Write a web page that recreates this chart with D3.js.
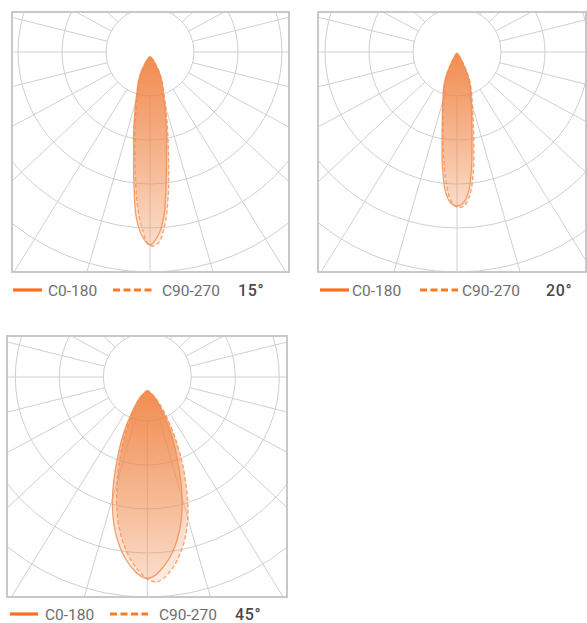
<!DOCTYPE html>
<html>
<head>
<meta charset="utf-8">
<script src="https://cdn.jsdelivr.net/npm/d3@7"></script>
<style>
  html, body { margin: 0; padding: 0; background: #fff; }
  svg { display: block; }
  text { font-family: Roboto, "Noto Sans", sans-serif; }
</style>
</head>
<body>
<svg id="chart" width="587" height="623"></svg>
<script>
// angulos gamma (0 = hacia abajo), intensidad relativa (%; anillo exterior = 100)
const gammas = [-90,-80,-70,-60,-50,-45,-40,-35,-30,-25,-20,-17.5,-15,-12.5,-10,-7.5,-5,-2.5,
  0,2.5,5,7.5,10,12.5,15,17.5,20,25,30,35,40,45,50,60,70,80,90];

const beam15C0 = [0,0,0.1,0.4,0.9,1.6,2.7,4.5,8.4,12.6,17.5,21.6,26.8,34.4,43.0,56.4,72.7,81.6,
  85.6,81.6,72.7,56.4,43.0,34.4,26.8,21.6,17.5,12.6,8.4,4.5,2.7,1.6,0.9,0.4,0.1,0,0];
const beam15C90 = [0,0,0.1,0.3,0.8,1.4,2.4,4.0,7.6,11.6,16.4,20.0,24.8,31.6,40.0,51.6,66.9,78.8,
  85.9,84.9,77.0,63.6,48.9,37.8,29.8,23.6,19.0,13.6,9.4,5.2,3.0,1.8,1.0,0.4,0.1,0,0];

const beam20C0 = [0,0,0.1,0.2,0.5,0.9,1.6,2.7,5.5,12.5,18.2,21.1,25.5,30.9,39.1,51.0,62.3,68.0,
  69.4,68.0,62.3,51.0,39.1,30.9,25.5,21.1,18.2,12.5,5.5,2.7,1.6,0.9,0.5,0.2,0.1,0,0];
const beam20C90 = [0,0,0.1,0.2,0.5,0.8,1.4,2.4,5.0,11.2,17.3,20.0,24.0,29.1,36.2,46.7,58.2,66.7,
  69.9,69.6,65.2,56.1,44.2,34.5,27.9,23.0,19.5,13.7,7.0,3.3,1.8,1.0,0.6,0.2,0.1,0,0];

const beam45C0 = [0,0,0,0.9,3.2,5.5,8.2,12.5,20.5,30.9,45.0,52.7,60.0,66.4,72.0,76.8,80.7,83.9,
  85.3,83.9,80.7,76.8,72.0,66.4,60.0,52.7,45.0,30.9,20.5,12.5,8.2,5.5,3.2,0.9,0,0,0];
const beam45C90 = [0,0,0,0.7,2.5,4.4,6.9,10.5,16.8,26.2,38.8,45.9,53.8,61.2,67.7,73.4,78.3,82.3,
  85.6,87.0,85.6,82.3,78.3,73.4,67.7,61.2,53.8,38.8,26.2,16.8,10.5,6.9,4.4,1.6,0.2,0,0];

const rings = [20, 40, 60, 80, 100];
const legendNames = ["C0-180", "C90-270"];
const beamLabels = ["15°", "20°", "45°"];

const panels = [
  { label: beamLabels[0], c0: beam15C0, c90: beam15C90, x0: 12, y0: 12, x1: 289, y1: 272,
    cx: 150, cy: 52, tip: 4.7, ly: 290, lx: [13, 42, 48, 113, 152, 162, 238] },
  { label: beamLabels[1], c0: beam20C0, c90: beam20C90, x0: 318, y0: 12, x1: 586, y1: 272,
    cx: 457, cy: 52, tip: 1.3, ly: 290, lx: [320, 349, 352, 420, 458, 462, 546] },
  { label: beamLabels[2], c0: beam45C0, c90: beam45C90, x0: 7, y0: 336, x1: 287, y1: 597,
    cx: 147.3, cy: 377, tip: 13.7, ly: 614, lx: [10, 38, 45, 110, 148, 159, 235] }
];

const svg = d3.select("#chart");
const defs = svg.append("defs");

const grad = defs.append("linearGradient")
  .attr("id", "beamFill")
  .attr("x1", 0).attr("y1", 0).attr("x2", 0).attr("y2", 1);
grad.append("stop").attr("offset", "0%").attr("stop-color", "rgb(239,122,52)").attr("stop-opacity", 0.62);
grad.append("stop").attr("offset", "100%").attr("stop-color", "rgb(242,150,95)").attr("stop-opacity", 0.18);

const r = d3.scaleLinear().domain([0, 100]).range([0, 220]);
const xStretch = 1.07; // las radiales del original estan algo estiradas en horizontal

const lineRad = d3.lineRadial()
  .angle((d, i) => Math.PI - gammas[i] * Math.PI / 180)
  .radius(d => r(d))
  .curve(d3.curveCatmullRom.alpha(0.5));

panels.forEach((p, k) => {
  const clipId = "clip" + k;
  defs.append("clipPath").attr("id", clipId)
    .append("rect")
    .attr("x", p.x0).attr("y", p.y0)
    .attr("width", p.x1 - p.x0).attr("height", p.y1 - p.y0);

  const g = svg.append("g");
  const grid = g.append("g").attr("clip-path", `url(#${clipId})`);

  // anillos
  grid.selectAll("circle.ring")
    .data(rings.slice(1))
    .enter()
    .append("circle")
    .attr("class", "ring")
    .attr("cx", p.cx).attr("cy", p.cy)
    .attr("r", d => r(d))
    .attr("fill", "none")
    .attr("stroke", "#cfcfcf")
    .attr("stroke-width", 1);

  // radiales cada 15 grados, desde el circulo interior
  const inner = r(rings[0]);
  grid.selectAll("line.spoke")
    .data(d3.range(0, 360, 15))
    .enter()
    .append("line")
    .attr("class", "spoke")
    .each(function (a) {
      const t = a * Math.PI / 180;
      let dx = xStretch * Math.sin(t), dy = Math.cos(t);
      const n = Math.hypot(dx, dy);
      dx /= n; dy /= n;
      d3.select(this)
        .attr("x1", p.cx + inner * dx).attr("y1", p.cy + inner * dy)
        .attr("x2", p.cx + 420 * dx).attr("y2", p.cy + 420 * dy);
    })
    .attr("stroke", "#d0d0d0")
    .attr("stroke-width", 1);

  grid.append("circle")
    .attr("cx", p.cx).attr("cy", p.cy)
    .attr("r", inner)
    .attr("fill", "#fff")
    .attr("stroke", "#cfcfcf")
    .attr("stroke-width", 1);

  // curvas fotometricas
  const curves = g.append("g").attr("transform", `translate(${p.cx},${p.cy + p.tip})`);
  curves.append("path")
    .attr("d", lineRad(p.c90) + "Z")
    .attr("fill", "url(#beamFill)")
    .attr("stroke", "rgb(241,142,82)")
    .attr("stroke-opacity", 0.8)
    .attr("stroke-width", 1.3)
    .attr("stroke-dasharray", "4,2.5");
  curves.append("path")
    .attr("d", lineRad(p.c0) + "Z")
    .attr("fill", "url(#beamFill)")
    .attr("stroke", "rgb(241,142,82)")
    .attr("stroke-opacity", 0.85)
    .attr("stroke-width", 1.3);

  // marco
  g.append("rect")
    .attr("x", p.x0).attr("y", p.y0)
    .attr("width", p.x1 - p.x0).attr("height", p.y1 - p.y0)
    .attr("fill", "none")
    .attr("stroke", "#c8c8c8")
    .attr("stroke-width", 2);

  // leyenda
  const lg = g.append("g");
  const base = p.ly + 5.5;
  lg.append("line")
    .attr("x1", p.lx[0]).attr("x2", p.lx[1])
    .attr("y1", p.ly).attr("y2", p.ly)
    .attr("stroke", "#ff6f1f").attr("stroke-width", 3.2);
  lg.append("text")
    .attr("x", p.lx[2]).attr("y", base)
    .attr("font-size", 15.5).attr("fill", "#6e6e6e")
    .text(legendNames[0]);
  lg.append("line")
    .attr("x1", p.lx[3]).attr("x2", p.lx[4])
    .attr("y1", p.ly).attr("y2", p.ly)
    .attr("stroke", "#ff7a1f").attr("stroke-width", 3.2)
    .attr("stroke-dasharray", "7,3.5");
  lg.append("text")
    .attr("x", p.lx[5]).attr("y", base)
    .attr("font-size", 15.5).attr("fill", "#6e6e6e")
    .text(legendNames[1]);
  lg.append("text")
    .attr("x", p.lx[6]).attr("y", base)
    .attr("font-size", 16).attr("font-weight", 500).attr("fill", "#4a4a4a")
    .attr("letter-spacing", 0.6)
    .text(p.label);
});
</script>
</body>
</html>
